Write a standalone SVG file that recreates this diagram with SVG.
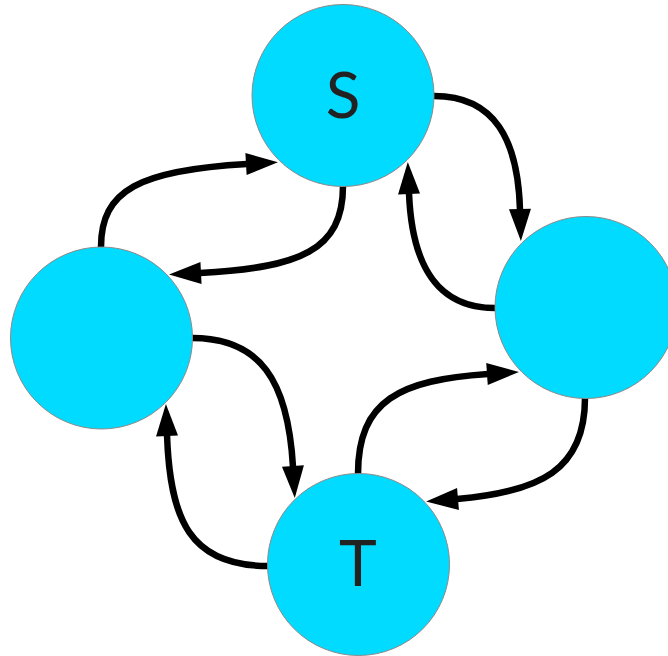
<svg xmlns="http://www.w3.org/2000/svg" width="668" height="656" viewBox="0 0 668 656">
<style>
.node{fill:#00DBFF;stroke:#8a8a8a;stroke-width:1}
.edge{fill:none;stroke:#000;stroke-width:6.5}
.lbl{font-family:Lato,"Open Sans",sans-serif;font-weight:400;font-size:64px;fill:#222;text-anchor:middle}
</style>
<defs>
<marker id="arr" markerUnits="userSpaceOnUse" markerWidth="40" markerHeight="30" refX="0" refY="0" viewBox="0 -15 40 30" orient="auto" overflow="visible">
<path d="M-1,-11 L31,0 L-1,11 z" fill="#000"/>
</marker>
</defs>
<rect width="668" height="656" fill="#fff"/>
<g id="connectors">
<path class="edge" marker-end="url(#arr)" d="M434,96 C495,96 518,140 520,210"/>
<path class="edge" marker-end="url(#arr)" d="M495,308 C440,308 412,270 409,193"/>
<path class="edge" marker-end="url(#arr)" d="M343,186 C343,250 300,268 200,273"/>
<path class="edge" marker-end="url(#arr)" d="M101,247 C101,190 140,170 247,164"/>
<path class="edge" marker-end="url(#arr)" d="M192,338 C260,338 288,380 293,467"/>
<path class="edge" marker-end="url(#arr)" d="M268,566 C190,566 170,520 167,435"/>
<path class="edge" marker-end="url(#arr)" d="M358,474 C358,400 400,380 488,374"/>
<path class="edge" marker-end="url(#arr)" d="M585,398 C585,470 540,492 457,499"/>
</g>
<g id="node-S"><circle class="node" cx="343" cy="95.5" r="91"/><text class="lbl" x="343" y="118">S</text></g>
<g id="node-L"><circle class="node" cx="101.5" cy="338" r="91"/></g>
<g id="node-R"><circle class="node" cx="586" cy="307.5" r="91"/></g>
<g id="node-T"><circle class="node" cx="358.5" cy="564.5" r="91"/><text class="lbl" x="358" y="586">T</text></g>
</svg>
